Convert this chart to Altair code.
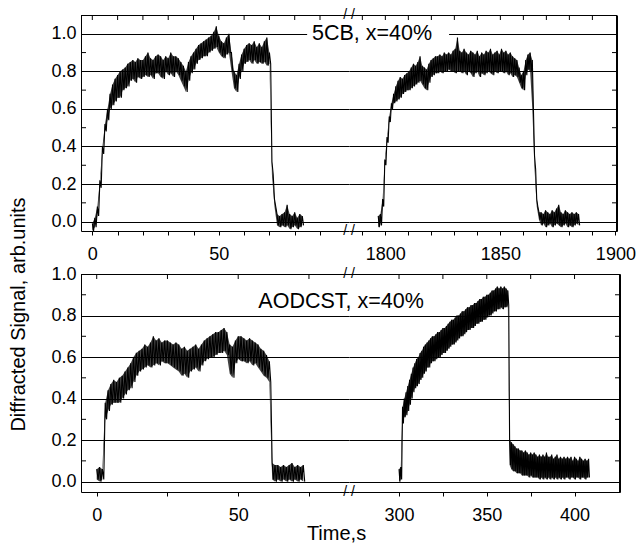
import altair as alt
import pandas as pd

FONT = "Liberation Sans"

# ---------------- data (upper / lower envelope of the noisy signal, one pair per sample) ----------------
TL_T0, TL_STEP = 0, 1.0  # 5CB, first exposure
TL_HI = [-0.01, 0.02, 0.08, 0.22, 0.40, 0.52, 0.60, 0.68, 0.73, 0.76,
         0.78, 0.80, 0.81, 0.82, 0.84, 0.85, 0.86, 0.85, 0.87, 0.86,
         0.86, 0.88, 0.90, 0.87, 0.86, 0.88, 0.89, 0.88, 0.86, 0.88,
         0.87, 0.90, 0.88, 0.88, 0.87, 0.85, 0.83, 0.80, 0.85, 0.88,
         0.90, 0.92, 0.94, 0.95, 0.96, 0.97, 0.98, 0.99, 1.01, 1.04,
         0.99, 0.96, 0.95, 0.98, 1.00, 0.90, 0.80, 0.78, 0.84, 0.89,
         0.92, 0.94, 0.95, 0.94, 0.96, 0.93, 0.95, 0.93, 0.96, 0.98,
         0.90, 0.32, 0.12, 0.04, 0.03, 0.04, 0.05, 0.09, 0.04, 0.03,
         0.05, 0.02, 0.04, 0.03]
TL_LO = [-0.05, -0.03, 0.03, 0.18, 0.36, 0.48, 0.54, 0.60, 0.62, 0.64,
         0.66, 0.66, 0.70, 0.71, 0.72, 0.75, 0.76, 0.74, 0.77, 0.76,
         0.77, 0.78, 0.77, 0.78, 0.76, 0.79, 0.79, 0.77, 0.76, 0.80,
         0.78, 0.79, 0.77, 0.80, 0.78, 0.75, 0.72, 0.69, 0.75, 0.79,
         0.81, 0.84, 0.86, 0.87, 0.88, 0.88, 0.90, 0.91, 0.92, 0.93,
         0.90, 0.88, 0.87, 0.89, 0.90, 0.80, 0.71, 0.69, 0.76, 0.80,
         0.84, 0.85, 0.86, 0.84, 0.86, 0.84, 0.85, 0.84, 0.85, 0.83,
         0.84, 0.25, 0.08, -0.02, -0.03, -0.02, -0.03, -0.02, -0.04, -0.03,
         -0.02, -0.04, -0.03, -0.02]

TR_T0, TR_STEP = 1796.9, 0.957  # 5CB, second exposure
TR_HI = [0.03, 0.04, 0.12, 0.33, 0.45, 0.56, 0.63, 0.68, 0.72, 0.75,
         0.77, 0.76, 0.78, 0.79, 0.80, 0.82, 0.84, 0.83, 0.85, 0.88,
         0.83, 0.82, 0.81, 0.84, 0.86, 0.87, 0.88, 0.88, 0.89, 0.88,
         0.90, 0.89, 0.90, 0.89, 0.91, 0.92, 0.98, 0.91, 0.90, 0.92,
         0.90, 0.89, 0.91, 0.90, 0.89, 0.91, 0.88, 0.90, 0.89, 0.91,
         0.90, 0.92, 0.89, 0.90, 0.91, 0.89, 0.92, 0.90, 0.91, 0.89,
         0.90, 0.88, 0.87, 0.86, 0.82, 0.78, 0.80, 0.86, 0.89, 0.90,
         0.86, 0.35, 0.12, 0.05, 0.05, 0.04, 0.06, 0.05, 0.04, 0.06,
         0.05, 0.07, 0.09, 0.05, 0.04, 0.06, 0.05, 0.04, 0.05, 0.04,
         0.05, 0.04]
TR_LO = [-0.03, -0.02, 0.08, 0.30, 0.42, 0.53, 0.60, 0.63, 0.64, 0.65,
         0.66, 0.68, 0.69, 0.70, 0.70, 0.71, 0.72, 0.73, 0.74, 0.75,
         0.73, 0.71, 0.70, 0.74, 0.77, 0.78, 0.79, 0.79, 0.80, 0.79,
         0.80, 0.80, 0.81, 0.80, 0.80, 0.79, 0.80, 0.80, 0.79, 0.80,
         0.78, 0.80, 0.79, 0.77, 0.79, 0.80, 0.77, 0.79, 0.78, 0.79,
         0.80, 0.79, 0.78, 0.80, 0.79, 0.80, 0.80, 0.79, 0.80, 0.78,
         0.79, 0.77, 0.78, 0.77, 0.74, 0.71, 0.70, 0.78, 0.81, 0.80,
         0.60, 0.28, 0.08, 0.01, -0.02, -0.01, -0.03, -0.02, -0.01, -0.03,
         -0.02, -0.01, -0.02, -0.03, -0.02, -0.01, -0.03, -0.02, -0.03, -0.02,
         -0.01, -0.02]

BL_T0, BL_STEP = 0, 1.0  # AODCST, first exposure
BL_HI = [0.06, 0.07, 0.06, 0.38, 0.44, 0.47, 0.49, 0.48, 0.50, 0.51,
         0.53, 0.55, 0.57, 0.60, 0.62, 0.63, 0.64, 0.66, 0.65, 0.67,
         0.70, 0.68, 0.69, 0.67, 0.68, 0.68, 0.67, 0.66, 0.67, 0.66,
         0.64, 0.65, 0.63, 0.64, 0.65, 0.66, 0.64, 0.66, 0.68, 0.69,
         0.70, 0.71, 0.72, 0.72, 0.73, 0.74, 0.72, 0.66, 0.65, 0.68,
         0.70, 0.70, 0.69, 0.68, 0.69, 0.68, 0.67, 0.66, 0.64, 0.63,
         0.61, 0.58, 0.09, 0.08, 0.08, 0.07, 0.08, 0.07, 0.08, 0.09,
         0.07, 0.08, 0.07, 0.08]
BL_LO = [0.01, 0.00, 0.01, 0.30, 0.34, 0.37, 0.38, 0.38, 0.38, 0.40,
         0.42, 0.44, 0.45, 0.48, 0.51, 0.53, 0.54, 0.55, 0.56, 0.55,
         0.56, 0.57, 0.56, 0.58, 0.57, 0.57, 0.56, 0.55, 0.54, 0.53,
         0.51, 0.52, 0.50, 0.53, 0.54, 0.55, 0.53, 0.56, 0.58, 0.59,
         0.60, 0.60, 0.61, 0.62, 0.62, 0.63, 0.61, 0.52, 0.50, 0.57,
         0.59, 0.58, 0.58, 0.57, 0.58, 0.56, 0.57, 0.55, 0.53, 0.51,
         0.50, 0.48, 0.01, 0.00, 0.01, 0.00, 0.01, 0.00, 0.01, 0.00,
         0.01, 0.00, 0.01, 0.00]

BR_T0, BR_STEP = 300, 1.0  # AODCST, second exposure
BR_HI = [0.06, 0.07, 0.36, 0.40, 0.43, 0.46, 0.49, 0.52, 0.55, 0.57,
         0.59, 0.60, 0.62, 0.63, 0.65, 0.66, 0.67, 0.68, 0.69, 0.70,
         0.70, 0.71, 0.72, 0.72, 0.73, 0.74, 0.74, 0.75, 0.76, 0.77,
         0.78, 0.78, 0.79, 0.80, 0.80, 0.81, 0.82, 0.82, 0.83, 0.84,
         0.84, 0.85, 0.85, 0.86, 0.86, 0.87, 0.88, 0.88, 0.89, 0.89,
         0.90, 0.90, 0.91, 0.92, 0.92, 0.93, 0.94, 0.93, 0.94, 0.93,
         0.94, 0.93, 0.92, 0.20, 0.19, 0.18, 0.17, 0.16, 0.16, 0.15,
         0.15, 0.14, 0.15, 0.14, 0.13, 0.14, 0.13, 0.14, 0.13, 0.12,
         0.13, 0.12, 0.13, 0.12, 0.14, 0.12, 0.12, 0.13, 0.11, 0.12,
         0.13, 0.11, 0.12, 0.11, 0.12, 0.11, 0.12, 0.11, 0.12, 0.10,
         0.12, 0.11, 0.10, 0.12, 0.11, 0.10, 0.11, 0.10, 0.11]
BR_LO = [0.00, 0.01, 0.28, 0.31, 0.32, 0.34, 0.37, 0.40, 0.43, 0.45,
         0.46, 0.47, 0.49, 0.50, 0.52, 0.53, 0.55, 0.55, 0.57, 0.58,
         0.58, 0.59, 0.60, 0.60, 0.61, 0.62, 0.62, 0.63, 0.64, 0.65,
         0.66, 0.66, 0.67, 0.68, 0.69, 0.70, 0.70, 0.71, 0.72, 0.73,
         0.73, 0.74, 0.74, 0.75, 0.76, 0.76, 0.77, 0.77, 0.78, 0.78,
         0.79, 0.80, 0.80, 0.81, 0.82, 0.82, 0.83, 0.83, 0.84, 0.83,
         0.84, 0.84, 0.85, 0.08, 0.06, 0.05, 0.05, 0.04, 0.04, 0.04,
         0.03, 0.03, 0.03, 0.03, 0.02, 0.03, 0.02, 0.02, 0.02, 0.02,
         0.01, 0.02, 0.01, 0.02, 0.01, 0.02, 0.01, 0.02, 0.01, 0.02,
         0.01, 0.02, 0.01, 0.02, 0.01, 0.02, 0.02, 0.01, 0.02, 0.02,
         0.01, 0.02, 0.02, 0.01, 0.02, 0.02, 0.01, 0.02, 0.02]

# ---------------- axes ----------------
Y_MAJOR = [0.0, 0.2, 0.4, 0.6, 0.8, 1.0]
Y_MINOR = [0.1, 0.3, 0.5, 0.7, 0.9]
TOP_Y = [-0.05, 1.1]
BOT_Y = [-0.05, 1.0]

TL_X = [-4.47, 101.46]
TR_X = [1784.2, 1900.7]
BL_X = [-5.55, 89.15]
BR_X = [271.5, 425.9]

TL_TICKS = [0, 10, 20, 30, 40, 50, 60, 70, 80, 90]
TL_LABELS = [0, 50]
TR_TICKS = [1790, 1800, 1810, 1820, 1830, 1840, 1850, 1860, 1870, 1880, 1890]
TR_LABELS = [1800, 1850, 1900]
TR_AXIS = TR_TICKS + [1900]
BL_TICKS = [0, 25, 50, 75]
BL_LABELS = [0, 50]
BR_TICKS = [300, 325, 350, 375, 400]
BR_LABELS = [300, 350, 400]

LABEL_TOP = "5CB, x=40%"
LABEL_BOT = "AODCST, x=40%"
Y_TITLE = "Diffracted Signal, arb.units"
X_TITLE = "Time,s"


def series(t0, step, hi, lo):
    t, v = [], []
    for i, (h, l) in enumerate(zip(hi, lo)):
        t += [t0 + i * step, t0 + (i + 0.5) * step]
        v += [h, l]
    return pd.DataFrame({"t": t, "v": v})


def band(t0, step, hi, lo):
    return pd.DataFrame({"t": [t0 + i * step for i in range(len(hi))], "v": lo, "v2": hi})


def frame_parts(xdom, ydom, w, h, side, ticks):
    """Top edge, outer side edge and inward ticks, as thin rectangles in data units."""
    px = (xdom[1] - xdom[0]) / w
    py = (ydom[1] - ydom[0]) / h
    t, t2, v, v2 = [], [], [], []
    t.append(xdom[0]); t2.append(xdom[1]); v.append(ydom[1]); v2.append(ydom[1] - py)
    if side == "right":
        t.append(xdom[1] - px); t2.append(xdom[1]); v.append(ydom[0]); v2.append(ydom[1])
        edge_a, edge_b = xdom[1] - 5 * px, xdom[1]
    else:
        edge_a, edge_b = xdom[0], xdom[0] + 5 * px
    for k in ticks:
        t.append(k - 0.5 * px); t2.append(k + 0.5 * px); v.append(ydom[1]); v2.append(ydom[1] - 5 * py)
    for m in Y_MINOR:
        t.append(edge_a); t2.append(edge_b); v.append(m - 0.5 * py); v2.append(m + 0.5 * py)

    def make(xs, ys):
        d = pd.DataFrame({"t": t, "t2": t2, "v": v, "v2": v2})
        return alt.Chart(d).mark_rect(color="black").encode(
            x=alt.X("t:Q", scale=xs, axis=None), x2="t2",
            y=alt.Y("v:Q", scale=ys, axis=None), y2="v2")
    return make


def panel(df, bdf, xdom, ydom, w, h, side, ticks, labels, axis_ticks=None, extras=(),
          ytitle=None, xtitle=None):
    xs = alt.Scale(domain=xdom, nice=False, zero=False)
    ys = alt.Scale(domain=ydom, nice=False, zero=False)
    cond = " || ".join(f"datum.value == {v}" for v in labels)
    xkw = dict(orient="bottom", values=axis_ticks or ticks, format="d",
               labelExpr=f"({cond}) ? datum.label : ''", tickSize=4, grid=False,
               domain=True, labelPadding=10.5, labelFlush=False, labelOverlap=False)
    if xtitle:
        xkw.update(titleX=255, titleY=47, titleAlign="center", titleBaseline="alphabetic")
    ykw = dict(orient=side, values=Y_MAJOR, format=".1f", grid=True, domain=True,
               ticks=False, tickSize=0, labels=(side == "left"), labelPadding=5)
    if ytitle:
        ykw.update(titleX=-56.7, titleY=40, titleAngle=270, titleAlign="center",
                   titleBaseline="alphabetic")
    line = alt.Chart(df).mark_line(color="black", strokeWidth=1.1).encode(
        x=alt.X("t:Q", scale=xs, title=xtitle, axis=alt.Axis(**xkw)),
        y=alt.Y("v:Q", scale=ys, title=ytitle, axis=alt.Axis(**ykw)),
    )
    fill = alt.Chart(bdf).mark_area(color="black", opacity=0.75).encode(
        x=alt.X("t:Q", scale=xs, axis=None),
        y=alt.Y("v:Q", scale=ys, axis=None), y2="v2")
    parts = list(extras) + [frame_parts(xdom, ydom, w, h, side, ticks)]
    layers = [line, fill] + [e(xs, ys) for e in parts]
    return alt.layer(*layers).resolve_axis(x="independent", y="independent").properties(
        width=w, height=h)


def breaks(xdom, ydom):
    def make(xs, ys):
        d = pd.DataFrame({"t": [xdom[0], xdom[0]], "v": [ydom[1], ydom[0]]})
        return alt.Chart(d).mark_text(text="/ /", fontSize=14, font=FONT, color="black",
                                      baseline="middle", align="center").encode(
            x=alt.X("t:Q", scale=xs, axis=None), y=alt.Y("v:Q", scale=ys, axis=None))
    return make


def label_box(t1, t2, v1, v2):
    def make(xs, ys):
        d = pd.DataFrame({"t": [t1], "t2": [t2], "v": [v1], "v2": [v2]})
        return alt.Chart(d).mark_rect(color="white").encode(
            x=alt.X("t:Q", scale=xs, axis=None), x2="t2",
            y=alt.Y("v:Q", scale=ys, axis=None), y2="v2")
    return make


def label_text(txt, t, v):
    def make(xs, ys):
        d = pd.DataFrame({"t": [t], "v": [v]})
        return alt.Chart(d).mark_text(text=txt, fontSize=21.5, font=FONT, color="black",
                                      baseline="middle", align="center").encode(
            x=alt.X("t:Q", scale=xs, axis=None), y=alt.Y("v:Q", scale=ys, axis=None))
    return make


tl = panel(series(TL_T0, TL_STEP, TL_HI, TL_LO), band(TL_T0, TL_STEP, TL_HI, TL_LO),
           TL_X, TOP_Y, 268, 216, "left", TL_TICKS, TL_LABELS)
tr = panel(series(TR_T0, TR_STEP, TR_HI, TR_LO), band(TR_T0, TR_STEP, TR_HI, TR_LO),
           TR_X, TOP_Y, 268, 216, "right", TR_TICKS, TR_LABELS, axis_ticks=TR_AXIS,
           extras=(label_box(1766.0, 1827.7, 0.965, 1.035),
                   label_text(LABEL_TOP, 1794.2, 1.0),
                   breaks(TR_X, TOP_Y)))
bl = panel(series(BL_T0, BL_STEP, BL_HI, BL_LO), band(BL_T0, BL_STEP, BL_HI, BL_LO),
           BL_X, BOT_Y, 268, 218, "left", BL_TICKS, BL_LABELS, ytitle=Y_TITLE, xtitle=X_TITLE)
br = panel(series(BR_T0, BR_STEP, BR_HI, BR_LO), band(BR_T0, BR_STEP, BR_HI, BR_LO),
           BR_X, BOT_Y, 271, 218, "right", BR_TICKS, BR_LABELS,
           extras=(label_text(LABEL_BOT, 267, 0.864),
                   breaks(BR_X, BOT_Y)))

chart = alt.concat(tl, tr, bl, br, columns=2, spacing={"row": 43, "column": 0},
                   bounds="flush").properties(
    padding={"left": 8, "top": 8, "right": 0, "bottom": 0},
    background="white",
).configure_view(strokeWidth=0).configure_axis(
    labelFont=FONT, labelFontSize=18, labelColor="black",
    titleFont=FONT, titleFontSize=20, titleFontWeight="normal", titleColor="black",
    domainColor="black", domainWidth=1, tickColor="black", tickWidth=1,
    gridColor="black", gridWidth=1, gridOpacity=1,
)

chart.save("out.html", embed_options={"renderer": "svg", "actions": False})
